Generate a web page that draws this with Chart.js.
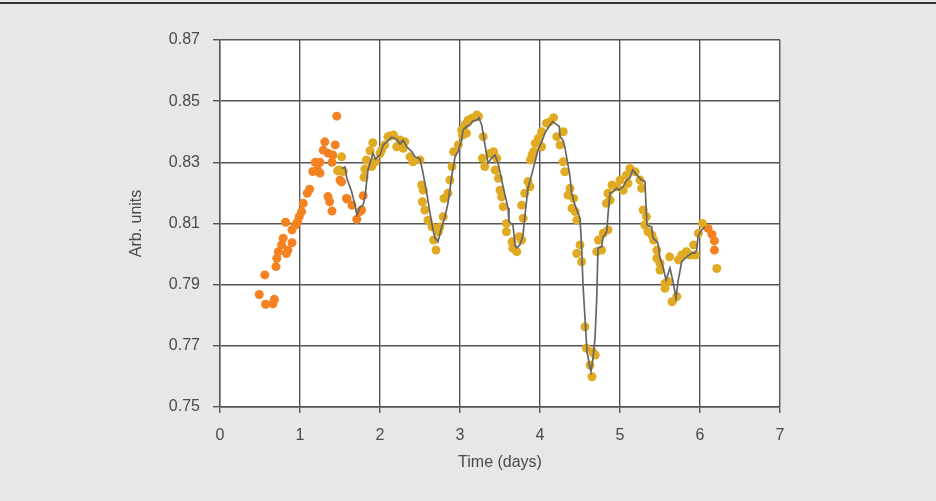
<!DOCTYPE html>
<html>
<head>
<meta charset="utf-8">
<script src="https://cdn.jsdelivr.net/npm/chart.js@4"></script>
<style>
  html, body { margin: 0; padding: 0; background: #e6e7e8; }
  #wrap { width: 936px; height: 501px; position: relative; }
</style>
</head>
<body>
<div id="wrap"><canvas id="c" width="936" height="501"></canvas></div>
<script>
const xTitle = "Time (days)";
const yTitle = "Arb. units";

const orangeX = [0.49,0.56,0.57,0.66,0.68,0.70,0.71,0.73,0.77,0.79,0.82,0.83,0.85,0.90,0.90,0.94,0.97,0.99,1.02,1.04,1.09,1.12,1.16,1.19,1.22,1.25,1.25,1.29,1.31,1.35,1.35,1.37,1.40,1.40,1.41,1.44,1.46,1.50,1.52,1.58,1.59,1.65,1.71,1.75,1.77,1.79,6.10,6.15,6.18,6.18];
const orangeY = [0.7868,0.7932,0.7836,0.7837,0.7852,0.7959,0.7986,0.8008,0.8030,0.8052,0.8104,0.8002,0.8013,0.8079,0.8037,0.8095,0.8105,0.8122,0.8139,0.8166,0.8199,0.8212,0.8270,0.8300,0.8275,0.8300,0.8265,0.8340,0.8367,0.8330,0.8188,0.8171,0.8141,0.8300,0.8324,0.8357,0.8451,0.8242,0.8236,0.8182,0.8180,0.8160,0.8114,0.8139,0.8144,0.8191,0.8084,0.8064,0.8043,0.8013];

const goldX = [1.47,1.49,1.52,1.54,1.80,1.81,1.83,1.875,1.896,1.91,1.94,2.00,2.02,2.06,2.10,2.125,2.17,2.21,2.25,2.29,2.31,2.375,2.41,2.50,2.52,2.53,2.54,2.56,2.60,2.65,2.67,2.70,2.73,2.75,2.79,2.80,2.85,2.875,2.90,2.92,2.98,3.02,3.03,3.06,3.08,3.10,3.15,3.21,3.23,3.28,3.29,3.31,3.375,3.42,3.44,3.46,3.48,3.50,3.52,3.54,3.58,3.58,3.65,3.66,3.71,3.74,3.77,3.77,3.79,3.81,3.85,3.875,3.88,3.90,3.92,3.94,3.98,4.02,4.02,4.08,4.125,4.17,4.21,4.25,4.29,4.29,4.31,4.35,4.375,4.40,4.42,4.44,4.46,4.46,4.50,4.52,4.5625,4.58,4.625,4.65,4.66,4.69,4.71,4.73,4.77,4.79,4.83,4.85,4.85,4.875,4.90,4.94,4.96,5.00,5.04,5.08,5.10,5.125,5.19,5.25,5.27,5.29,5.31,5.33,5.35,5.40,5.42,5.46,5.46,5.50,5.50,5.5625,5.5625,5.60,5.62,5.65,5.71,5.73,5.77,5.83,5.875,5.92,5.94,5.98,6.03,6.21];
const goldY = [0.8272,0.8275,0.8318,0.8270,0.8251,0.8278,0.8308,0.8338,0.8286,0.8364,0.8302,0.8329,0.8340,0.8357,0.8384,0.8386,0.8389,0.8351,0.8373,0.8346,0.8367,0.8318,0.8302,0.8308,0.8226,0.8171,0.8209,0.8144,0.8111,0.8089,0.8046,0.8013,0.8073,0.8089,0.8122,0.8182,0.8199,0.8242,0.8286,0.8335,0.8357,0.8406,0.8389,0.8422,0.8395,0.8438,0.8444,0.8455,0.8450,0.8313,0.8384,0.8286,0.8329,0.8335,0.8275,0.8313,0.8248,0.8209,0.8187,0.8155,0.8100,0.8073,0.8040,0.8019,0.8008,0.8057,0.8046,0.8160,0.8117,0.8199,0.8237,0.8220,0.8308,0.8324,0.8335,0.8362,0.8378,0.8400,0.8351,0.8428,0.8433,0.8446,0.8384,0.8357,0.8400,0.8302,0.8269,0.8193,0.8215,0.8150,0.8182,0.8139,0.8111,0.8002,0.8030,0.7975,0.7762,0.7692,0.7637,0.7599,0.7680,0.7670,0.8008,0.8046,0.8013,0.8068,0.8166,0.8199,0.8079,0.8177,0.8226,0.8220,0.8220,0.8242,0.8209,0.8258,0.8231,0.8280,0.8269,0.8242,0.8215,0.8144,0.8095,0.8122,0.8073,0.8062,0.8046,0.8013,0.7986,0.7970,0.7948,0.7904,0.7888,0.7910,0.7991,0.7844,0.7861,0.7981,0.7997,0.8008,0.7997,0.8030,0.7997,0.8068,0.8100,0.7953];

const lineX = [1.521,1.5625,1.584,1.646,1.6875,1.7125,1.75,1.7875,1.8125,1.85,1.9125,1.944,2.0,2.04,2.084,2.146,2.209,2.25,2.2875,2.334,2.396,2.4375,2.5,2.5375,2.584,2.625,2.6625,2.6875,2.725,2.771,2.8125,2.85,2.896,2.9375,2.975,3.021,3.0375,3.084,3.125,3.1625,3.209,3.2375,3.271,3.3125,3.35,3.396,3.4375,3.475,3.5,3.534,3.5625,3.6,3.6125,3.6625,3.6875,3.709,3.75,3.7875,3.8125,3.85,3.896,3.9375,3.975,4.021,4.0625,4.084,4.125,4.159,4.2,4.241,4.25,4.2875,4.3125,4.35,4.375,4.396,4.4125,4.4375,4.475,4.5,4.521,4.5375,4.5625,4.5875,4.625,4.6375,4.6625,4.6875,4.709,4.725,4.771,4.7875,4.834,4.85,4.875,4.9125,4.959,4.9875,5.0375,5.084,5.125,5.159,5.209,5.271,5.3125,5.325,5.3375,5.396,5.4125,5.475,5.5,5.5375,5.575,5.625,5.6625,5.7,5.725,5.771,5.834,5.896,5.9375,5.959,5.975,6.021,6.0625];
const lineY = [0.8280,0.8285,0.8249,0.8204,0.8160,0.8128,0.8154,0.8160,0.8187,0.8275,0.8330,0.8311,0.8324,0.8357,0.8367,0.8382,0.8375,0.8360,0.8373,0.8351,0.8335,0.8318,0.8311,0.8265,0.8200,0.8134,0.8079,0.8053,0.8040,0.8089,0.8122,0.8167,0.8253,0.8318,0.8335,0.8373,0.8406,0.8417,0.8422,0.8435,0.8438,0.8445,0.8422,0.8357,0.8298,0.8314,0.8324,0.8298,0.8269,0.8226,0.8193,0.8151,0.8106,0.8095,0.8030,0.8020,0.8030,0.8062,0.8128,0.8216,0.8259,0.8302,0.8340,0.8367,0.8396,0.8406,0.8422,0.8433,0.8425,0.8417,0.8384,0.8373,0.8347,0.8291,0.8253,0.8200,0.8183,0.8160,0.8134,0.8118,0.8020,0.7899,0.7791,0.7681,0.7627,0.7615,0.7660,0.7725,0.7856,0.8020,0.8024,0.8053,0.8073,0.8128,0.8200,0.8204,0.8215,0.8209,0.8220,0.8242,0.8249,0.8275,0.8259,0.8242,0.8237,0.8160,0.8095,0.8089,0.8053,0.8036,0.7987,0.7959,0.7915,0.7954,0.7910,0.7856,0.7910,0.7975,0.7991,0.8003,0.8003,0.8013,0.8057,0.8079,0.8089];

const xMin = 0, xMax = 7, xStep = 1;
const yMin = 0.75, yMax = 0.87, yStep = 0.02;

const pts = (xs, ys) => xs.map((x, i) => ({ x: x, y: ys[i] }));

const bgPlugin = {
  id: 'bg',
  beforeDraw(chart) {
    const ctx = chart.ctx, a = chart.chartArea;
    ctx.save();
    ctx.fillStyle = '#e6e7e8';
    ctx.fillRect(0, 0, chart.width, chart.height);
    ctx.fillStyle = '#333333';
    ctx.fillRect(0, 2, chart.width, 2);
    ctx.fillStyle = '#ffffff';
    ctx.fillRect(a.left, a.top, a.right - a.left, a.bottom - a.top);
    ctx.restore();
  }
};

const FONT = "'Liberation Sans', Arial, sans-serif";
const TXT = '#4a4a4a';
const GRID = '#555555';

new Chart(document.getElementById('c'), {
  type: 'scatter',
  data: {
    datasets: [
      { label: 'fit', type: 'line', data: pts(lineX, lineY), borderColor: '#666666', borderWidth: 1.7, pointRadius: 0, fill: false, tension: 0, order: 0 },
      { label: 'orange', data: pts(orangeX, orangeY), backgroundColor: '#f58220', borderWidth: 0, pointRadius: 4.5, order: 2 },
      { label: 'gold', data: pts(goldX, goldY), backgroundColor: '#e0ab22', borderWidth: 0, pointRadius: 4.5, order: 1 }
    ]
  },
  options: {
    responsive: false,
    animation: false,
    devicePixelRatio: 1,
    layout: { padding: { left: 118, right: 156, top: 40, bottom: 22 } },
    plugins: { legend: { display: false }, tooltip: { enabled: false } },
    scales: {
      x: {
        type: 'linear', min: xMin, max: xMax,
        ticks: { stepSize: xStep, color: TXT, font: { family: FONT, size: 16 }, padding: 13, maxRotation: 0 },
        grid: { color: GRID, lineWidth: 1.4, tickLength: 6 },
        border: { color: GRID, width: 1.4 },
        title: { display: true, text: xTitle, color: TXT, font: { family: FONT, size: 16 }, padding: { top: 0, bottom: 7 } },
        afterFit(axis) { axis.height = 72; }
      },
      y: {
        type: 'linear', min: yMin, max: yMax,
        ticks: { stepSize: yStep, color: TXT, font: { family: FONT, size: 16 }, padding: 13, callback: v => v.toFixed(2) },
        grid: { color: GRID, lineWidth: 1.4, tickLength: 7 },
        border: { color: GRID, width: 1.4 },
        title: { display: true, text: yTitle, color: TXT, font: { family: FONT, size: 16 }, padding: { top: 9, bottom: 0 } },
        afterFit(axis) { axis.width = 102; }
      }
    }
  },
  plugins: [bgPlugin]
});
</script>
</body>
</html>
